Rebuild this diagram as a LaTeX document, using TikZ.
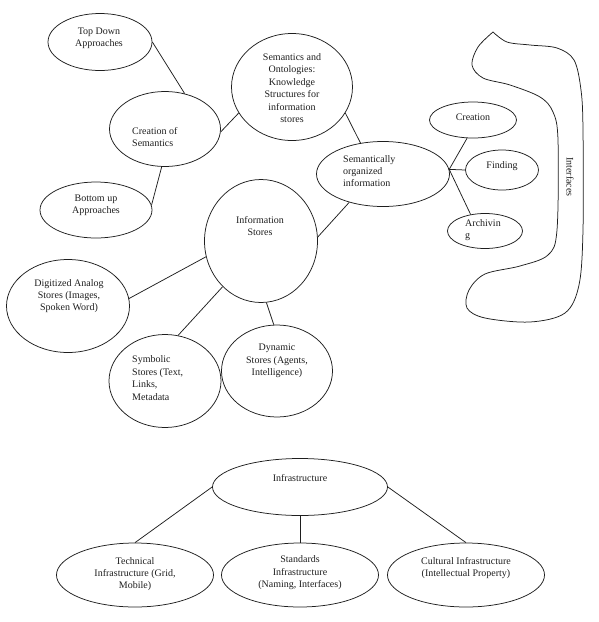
\documentclass[tikz,border=0pt]{standalone}
\usepackage{fontspec}
\setmainfont{Liberation Serif}
\usetikzlibrary{shapes.geometric}
\definecolor{smInk}{HTML}{1E1E1E}
\tikzset{
  sm bubble/.style={ellipse, draw=smInk, line width=0.75pt, inner sep=0pt},
  sm text/.style={font=\fontsize{10}{12.4}\selectfont, text=smInk, inner sep=0pt, align=center},
  sm left text/.style={sm text, align=left, anchor=west},
  sm link/.style={draw=smInk, line width=0.75pt},
  sm frame/.style={draw=smInk, line width=0.75pt},
}

\begin{document}
\begin{tikzpicture}[x=1pt,y=-1pt]
  \useasboundingbox (0,0) rectangle (598,622);

  % creation of semantics (top left)
  \node[sm bubble, minimum width=104pt, minimum height=57pt] (topdown) at (100,42) {};
  \node[sm text] (topdown-t) at (99,38) {Top Down\\Approaches};
  \node[sm bubble, minimum width=111pt, minimum height=75pt] (mksem) at (165,129) {};
  \node[sm left text] (mksem-t) at (132,137) {Creation of\\Semantics};
  \node[sm bubble, minimum width=112pt, minimum height=56pt] (bottomup) at (96,210) {};
  \node[sm text] (bottomup-t) at (96,205) {Bottom up\\Approaches};

  % knowledge structures
  \node[sm bubble, minimum width=121pt, minimum height=107pt] (ontol) at (292,87) {};
  \node[sm text] (ontol-t) at (292,88) {Semantics and\\Ontologies:\\Knowledge\\Structures for\\information\\stores};
  \node[sm bubble, minimum width=133pt, minimum height=65pt] (semorg) at (383,174) {};
  \node[sm left text] (semorg-t) at (343,171) {Semantically\\organized\\information};

  % uses of organized information
  \node[sm bubble, minimum width=87pt, minimum height=36pt] (create) at (473,120) {};
  \node[sm text] (create-t) at (473,117) {Creation};
  \node[sm bubble, minimum width=73pt, minimum height=40pt] (find) at (502,170) {};
  \node[sm text] (find-t) at (502,166) {Finding};
  \node[sm bubble, minimum width=75pt, minimum height=35pt] (archive) at (485,231) {};
  \node[sm left text] (archive-t) at (465,230) {Archivin\\g};

  % interfaces bracket
  \draw[sm frame] plot[smooth, tension=0.55] coordinates {
    (493,32) (507,42) (530,45) (557,48) (574,60) (581,90) (583,130)
    (583,230) (579,285) (565,313) (530,322) (485,318) (467,308) (469,290)
    (485,274) (520,266) (548,255) (557,230) (558,140) (553,112) (540,97)
    (510,85) (483,78) (472,65) (478,47) (493,32)};
  \node[sm text, rotate=-90] (iface-t) at (570,177) {Interfaces};

  % information stores
  \node[sm bubble, minimum width=113pt, minimum height=123pt] (stores) at (261,241) {};
  \node[sm text] (stores-t) at (260,226) {Information\\Stores};
  \node[sm bubble, minimum width=123pt, minimum height=93pt] (analog) at (68,306) {};
  \node[sm text] (analog-t) at (69,296) {Digitized Analog\\Stores (Images,\\Spoken Word)};
  \node[sm bubble, minimum width=112pt, minimum height=93pt] (symbolic) at (165,381) {};
  \node[sm left text] (symbolic-t) at (132,378) {Symbolic\\Stores (Text,\\Links,\\Metadata};
  \node[sm bubble, minimum width=111pt, minimum height=92pt] (dynamic) at (277,371) {};
  \node[sm text] (dynamic-t) at (277,361) {Dynamic\\Stores (Agents,\\Intelligence)};

  % links of the upper map
  \draw[sm link] (topdown.east) -- (mksem.61);
  \draw[sm link] (bottomup.5) -- (mksem.-95);
  \draw[sm link] (mksem.-3) -- (ontol.206);
  \draw[sm link] (ontol.-26) -- (semorg.126);
  \draw[sm link] (semorg.220) -- (stores.4);
  \coordinate (hub) at (semorg.4);
  \draw[sm link] (hub) -- (create.-108);
  \draw[sm link] (hub) -- (find.west);
  \draw[sm link] (hub) -- (archive.131);
  \draw[sm link] (stores.196) -- (analog.7);
  \draw[sm link] (stores.230) -- (symbolic.74);
  \draw[sm link] (stores.-85) -- (dynamic.94);

  % infrastructure tree
  \node[sm bubble, minimum width=175pt, minimum height=57pt] (infra) at (300,487) {};
  \node[sm text] (infra-t) at (300,478) {Infrastructure};
  \foreach \nm/\x/\ty/\txt in {tech/135/574/{Technical\\Infrastructure (Grid,\\Mobile)},
                              stds/300/573/{Standards\\Infrastructure\\(Naming, Interfaces)},
                              culture/466/568/{Cultural Infrastructure\\(Intellectual Property)}} {
    \node[sm bubble, minimum width=157pt, minimum height=64pt] (\nm) at (\x,575) {};
    \node[sm text] (\nm-t) at (\x,\ty) {\txt};
  }
  \draw[sm link] (infra.west) -- (tech.north);
  \draw[sm link] (infra.south) -- (stds.north);
  \draw[sm link] (infra.east) -- (culture.north);
\end{tikzpicture}
\end{document}
